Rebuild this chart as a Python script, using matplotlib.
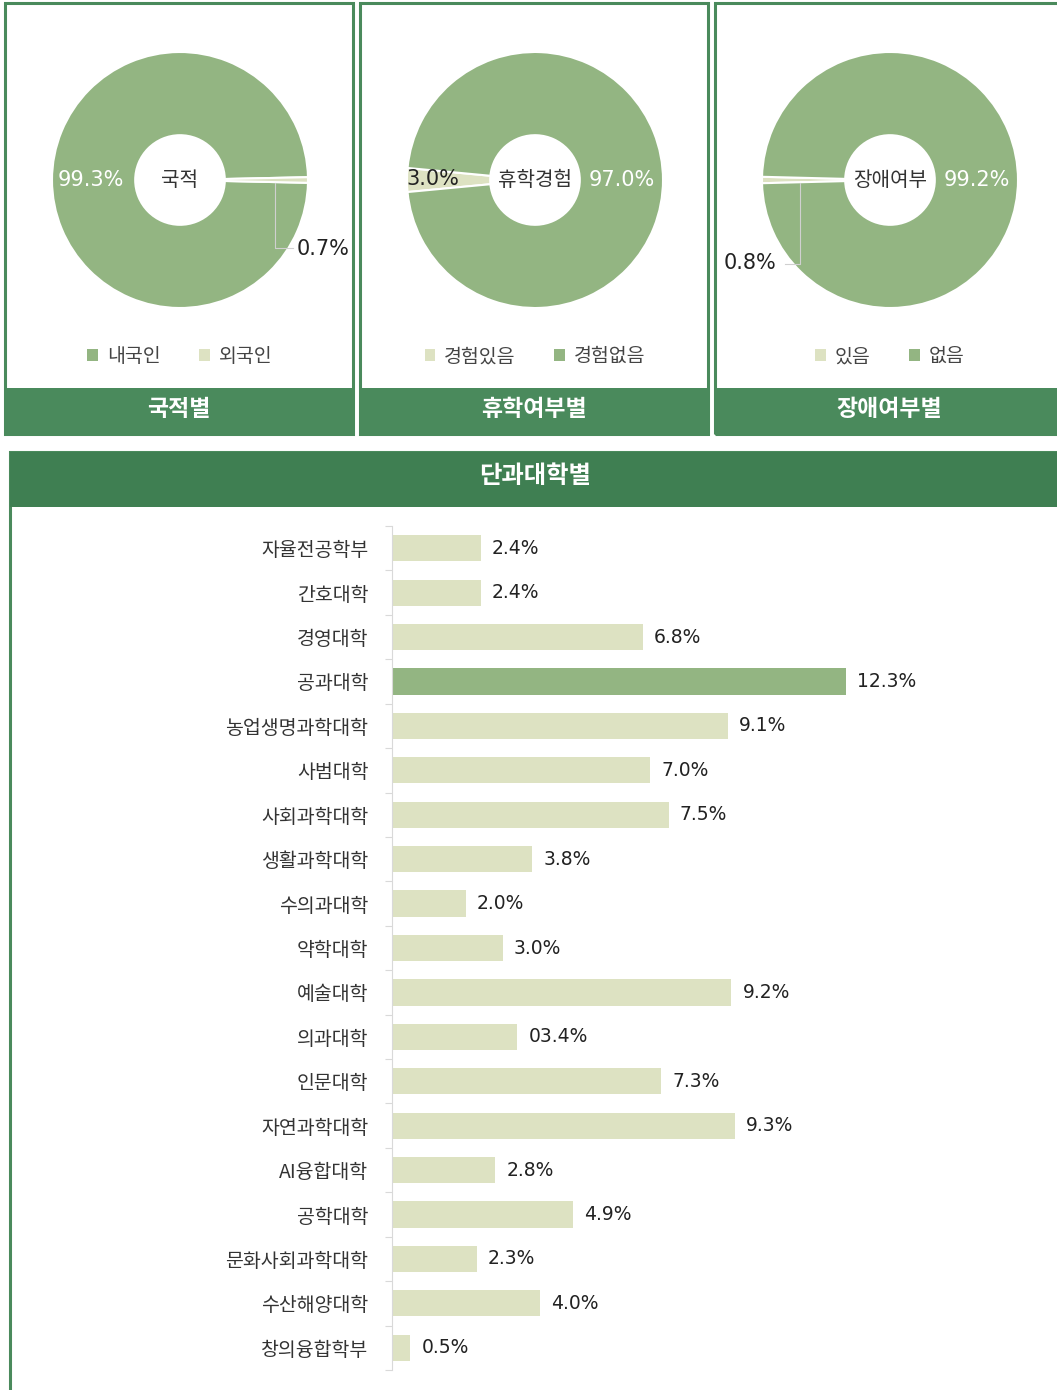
import numpy as np
import matplotlib.pyplot as plt
from matplotlib.patches import Rectangle, Patch

plt.rcParams['font.family'] = ['Noto Sans CJK KR', 'DejaVu Sans']

# ---- data ----
donut_titles = ['국적별', '휴학여부별', '장애여부별']
donut_centers = ['국적', '휴학경험', '장애여부']
donut_labels = [['내국인', '외국인'], ['경험있음', '경험없음'], ['있음', '없음']]
donut_values = [[99.3, 0.7], [3.0, 97.0], [0.8, 99.2]]

colleges = ['자율전공학부', '간호대학', '경영대학', '공과대학', '농업생명과학대학', '사범대학',
            '사회과학대학', '생활과학대학', '수의과대학', '약학대학', '예술대학', '의과대학',
            '인문대학', '자연과학대학', 'AI융합대학', '공학대학', '문화사회과학대학',
            '수산해양대학', '창의융합학부']
college_values = [2.4, 2.4, 6.8, 12.3, 9.1, 7.0, 7.5, 3.8, 2.0, 3.0, 9.2, 3.4,
                  7.3, 9.3, 2.8, 4.9, 2.3, 4.0, 0.5]
college_texts = ['2.4%', '2.4%', '6.8%', '12.3%', '9.1%', '7.0%', '7.5%', '3.8%', '2.0%',
                 '3.0%', '9.2%', '03.4%', '7.3%', '9.3%', '2.8%', '4.9%', '2.3%', '4.0%', '0.5%']

# ---- style ----
DARK = '#3f7f52'
BAND = '#4a8a5c'
GREEN = '#93b582'
LIGHT = '#dde2c2'
TEXT = '#222222'
NUM_FONT = 'DejaVu Sans'

W, H = 1057, 1390
fig = plt.figure(figsize=(W / 100, H / 100), dpi=100)
fig.patch.set_facecolor('white')


def px_axes(x0, y0, x1, y1):
    # axes placed by pixel box (top-left origin)
    return fig.add_axes([x0 / W, 1 - y1 / H, (x1 - x0) / W, (y1 - y0) / H])


def px_rect(x0, y0, x1, y1, **kw):
    fig.add_artist(Rectangle((x0 / W, 1 - y1 / H), (x1 - x0) / W, (y1 - y0) / H,
                             transform=fig.transFigure, **kw))


# ---- top panels ----
panels = [(5, 353), (360, 708), (715, 1062)]
centers_x = [180, 535, 890]
slice_colors = [[GREEN, LIGHT], [LIGHT, GREEN], [LIGHT, GREEN]]
start_angles = [1.26, 174.6, 178.56]

for i, ((x0, x1), cx) in enumerate(zip(panels, centers_x)):
    px_rect(x0, 3, x1, 434, facecolor='none', edgecolor=BAND, linewidth=2.2)
    px_rect(x0, 388, x1, 434, facecolor=BAND, edgecolor='none')
    title_x = (x0 + x1) / 2 if i < 2 else 889
    fig.text(title_x / W, 1 - 410 / H, donut_titles[i], color='white', fontsize=16.5,
             fontweight='bold', ha='center', va='center')

    r = 128
    ax = px_axes(cx - r, 180 - r, cx + r, 180 + r)
    ax.pie(donut_values[i], colors=slice_colors[i], startangle=start_angles[i],
           counterclock=True, radius=1,
           wedgeprops=dict(width=0.65, edgecolor='white', linewidth=1.5))
    ax.set_xlim(-1, 1)
    ax.set_ylim(-1, 1)
    ax.set_aspect('equal')
    ax.axis('off')
    ax.text(0, 0, donut_centers[i], ha='center', va='center', fontsize=14.5, color='#333333')

    handles = [Patch(facecolor=c, edgecolor='none') for c in slice_colors[i]]
    ax.legend(handles, donut_labels[i], loc='center', bbox_to_anchor=(0.5, -0.19),
              ncol=2, frameon=False, fontsize=14, handlelength=0.55, handleheight=0.55,
              handletextpad=0.45, columnspacing=2.0, labelcolor='#444444')

    # percentage labels
    if i == 0:
        ax.text(-0.70, 0, f'{donut_values[0][0]}%', ha='center', va='center',
                fontsize=15, color='white', family=NUM_FONT)
        ax.plot([0.74, 0.74, 0.88], [-0.02, -0.53, -0.53], color='#d0d0d0', lw=0.8)
        ax.text(0.91, -0.54, f'{donut_values[0][1]}%', ha='left', va='center',
                fontsize=15, color=TEXT, family=NUM_FONT, clip_on=False)
    elif i == 1:
        ax.text(-0.80, 0.01, f'{donut_values[1][0]}%', ha='center', va='center',
                fontsize=15, color=TEXT, family=NUM_FONT)
        ax.text(0.68, 0, f'{donut_values[1][1]}%', ha='center', va='center',
                fontsize=15, color='white', family=NUM_FONT)
    else:
        ax.plot([-0.70, -0.70, -0.82], [-0.02, -0.66, -0.66], color='#d0d0d0', lw=0.8)
        ax.text(-1.09, -0.65, f'{donut_values[2][0]}%', ha='center', va='center',
                fontsize=15, color=TEXT, family=NUM_FONT, clip_on=False)
        ax.text(0.68, 0, f'{donut_values[2][1]}%', ha='center', va='center',
                fontsize=15, color='white', family=NUM_FONT)

# ---- college bar chart ----
px_rect(10, 452, 1070, 1400, facecolor='none', edgecolor=BAND, linewidth=2.2)
px_rect(10, 452, 1070, 507, facecolor=DARK, edgecolor='none')
fig.text(535 / W, 1 - 476 / H, '단과대학별', color='white', fontsize=17.5,
         fontweight='bold', ha='center', va='center')

bx = px_axes(392, 526, 392 + 15 * 36.9, 1370)
y = np.arange(len(colleges))
colors = [GREEN if v == max(college_values) else LIGHT for v in college_values]
bars = bx.barh(y, college_values, height=0.59, color=colors, edgecolor='none')
for bar, txt in zip(bars, college_texts):
    bx.annotate(txt, (bar.get_width(), bar.get_y() + bar.get_height() / 2),
                xytext=(8, 0), textcoords='offset points', ha='left', va='center',
                fontsize=13.5, color=TEXT, family=NUM_FONT)

bx.set_xlim(0, 15)
bx.set_ylim(len(colleges) - 0.5, -0.5)
bx.set_yticks(y)
bx.set_yticklabels(colleges, fontsize=14, color='#333333')
bx.set_yticks(np.arange(-0.5, len(colleges)), minor=True)
bx.tick_params(axis='y', which='major', length=0, pad=17)
bx.tick_params(axis='y', which='minor', length=5, color='#d9d9d9', width=0.8)
bx.set_xticks([])
for s in ['top', 'right', 'bottom']:
    bx.spines[s].set_visible(False)
bx.spines['left'].set_color('#d9d9d9')
bx.patch.set_alpha(0)

fig.savefig('out.png', dpi=100)
